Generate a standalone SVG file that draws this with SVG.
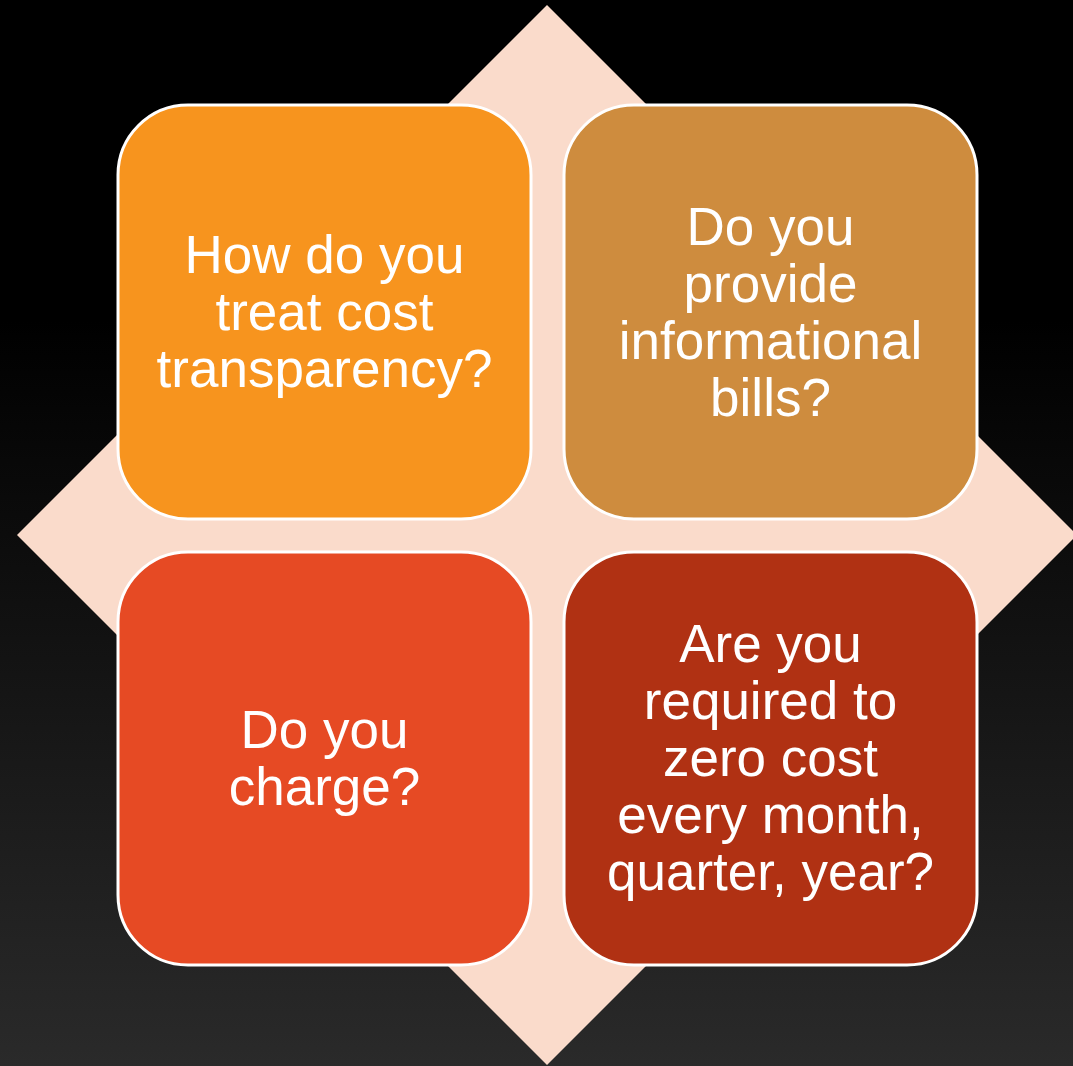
<svg xmlns="http://www.w3.org/2000/svg" width="1073" height="1066" viewBox="0 0 1073 1066">
<defs>
<linearGradient id="bg" x1="0" y1="0" x2="0" y2="1">
<stop offset="0" stop-color="#000000"/>
<stop offset="0.3" stop-color="#000000"/>
<stop offset="1" stop-color="#2a2a2a"/>
</linearGradient>
</defs>
<style>
.box{stroke:#ffffff;stroke-width:3}
.t{font-family:"Liberation Sans",Arial,sans-serif;font-size:53px;fill:#ffffff;text-anchor:middle}
</style>
<rect x="0" y="0" width="1073" height="1066" fill="url(#bg)"/>
<polygon id="diamond" points="547,5 1077,535 547,1065 17,535" fill="#fadbcb"/>
<g id="connectors"></g>
<g id="node-tl">
<rect class="box" x="118" y="105" width="413" height="414" rx="70" fill="#f7941e"/>
<text class="t" x="324.5" y="273">How do you</text>
<text class="t" x="324.5" y="330">treat cost</text>
<text class="t" x="324.5" y="387">transparency?</text>
</g>
<g id="node-tr">
<rect class="box" x="564" y="105" width="413" height="414" rx="70" fill="#ce8c3e"/>
<text class="t" x="770.5" y="245">Do you</text>
<text class="t" x="770.5" y="302">provide</text>
<text class="t" x="770.5" y="359">informational</text>
<text class="t" x="770.5" y="416">bills?</text>
</g>
<g id="node-bl">
<rect class="box" x="118" y="552" width="413" height="413" rx="70" fill="#e64a24"/>
<text class="t" x="324.5" y="748">Do you</text>
<text class="t" x="324.5" y="805">charge?</text>
</g>
<g id="node-br">
<rect class="box" x="564" y="552" width="413" height="413" rx="70" fill="#b03113"/>
<text class="t" x="770.5" y="662">Are you</text>
<text class="t" x="770.5" y="719">required to</text>
<text class="t" x="770.5" y="776">zero cost</text>
<text class="t" x="770.5" y="833">every month,</text>
<text class="t" x="770.5" y="890">quarter, year?</text>
</g>
</svg>
